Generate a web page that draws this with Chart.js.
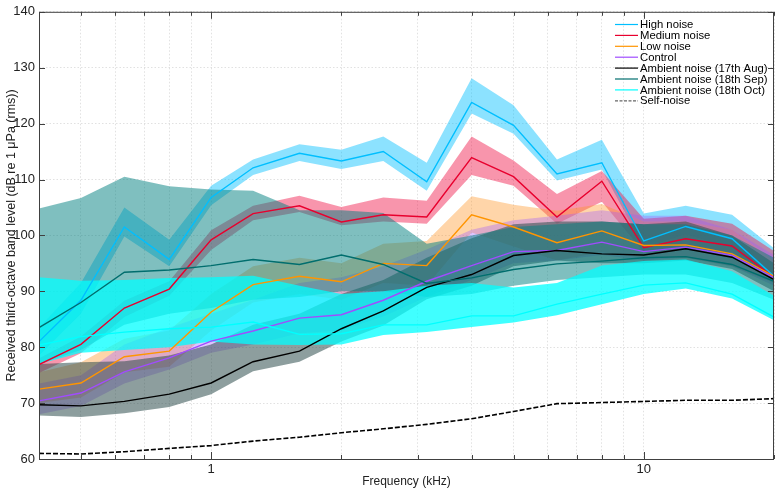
<!DOCTYPE html>
<html>
<head>
<meta charset="utf-8">
<script src="https://cdn.jsdelivr.net/npm/chart.js@4.4.1/dist/chart.umd.min.js"></script>
<style>
  html, body { margin: 0; padding: 0; background: #fff; }
  #wrap { width: 777px; height: 489px; }
</style>
</head>
<body>
<div id="wrap"><canvas id="noise-chart" width="777" height="489"></canvas></div>
<script>
// Third-octave band centre frequencies (kHz)
const freqs = [0.4, 0.5, 0.63, 0.8, 1, 1.25, 1.6, 2, 2.5, 3.15, 4, 5, 6.3, 8, 10, 12.5, 16, 20];

// High noise
const highMean  = [81.0, 88.4, 101.5, 95.7, 106.8, 112.1, 114.7, 113.3, 115.0, 109.6, 123.8, 119.7, 111.0, 113.0, 99.0, 101.6, 99.4, 92.7];
const highUpper = [83.5, 91.5, 105.0, 99.2, 108.9, 113.6, 116.3, 115.3, 117.7, 113.0, 128.1, 123.3, 113.6, 117.1, 103.9, 105.3, 103.7, 97.7];
const highLower = [78.5, 86.0, 99.8, 94.5, 105.4, 110.8, 113.3, 111.9, 113.3, 108.0, 121.8, 118.2, 109.8, 111.8, 97.8, 100.2, 97.8, 92.0];

// Medium noise
const medMean  = [76.9, 80.5, 87.0, 90.4, 99.2, 103.9, 105.3, 102.4, 103.7, 103.3, 113.9, 110.5, 103.3, 109.7, 97.8, 99.4, 98.1, 92.5];
const medUpper = [78.0, 81.9, 88.3, 91.8, 100.9, 105.3, 107.1, 105.1, 106.8, 106.2, 117.7, 113.4, 107.4, 111.5, 103.0, 103.5, 102.1, 97.2];
const medLower = [75.4, 78.9, 85.4, 89.2, 97.4, 102.7, 104.2, 101.8, 102.5, 102.1, 110.8, 108.9, 102.1, 106.0, 97.0, 97.5, 97.0, 92.0];

// Low noise
const lowMean  = [72.5, 73.6, 78.3, 79.3, 86.3, 91.2, 92.7, 91.7, 95.0, 94.6, 103.7, 101.5, 98.7, 100.8, 98.2, 98.3, 96.7, 92.7];
const lowUpper = [75.5, 77.3, 81.5, 83.0, 89.5, 94.5, 96.0, 95.0, 98.5, 99.0, 107.0, 105.5, 104.4, 105.6, 102.5, 102.5, 101.0, 95.5];
const lowLower = [70.0, 71.0, 75.5, 76.5, 83.0, 88.0, 89.5, 88.5, 91.5, 91.0, 100.5, 98.0, 95.5, 97.0, 96.0, 96.0, 94.5, 91.5];

// Control
const ctrlMean  = [70.4, 71.8, 75.6, 78.1, 81.1, 82.9, 85.2, 85.8, 88.4, 91.8, 94.6, 97.1, 97.3, 98.8, 97.1, 97.9, 96.4, 92.4];
const ctrlUpper = [73.5, 75.0, 80.5, 83.5, 86.0, 88.5, 91.5, 92.5, 94.5, 97.5, 101.0, 102.7, 103.5, 104.5, 103.5, 103.5, 101.0, 96.5];
const ctrlLower = [68.0, 69.5, 73.5, 76.0, 79.0, 80.5, 82.5, 83.0, 85.5, 89.0, 92.0, 95.0, 95.5, 96.5, 95.5, 96.0, 94.5, 91.0];

// Ambient noise (17th Aug)
const augMean  = [69.7, 69.5, 70.3, 71.6, 73.6, 77.4, 79.3, 83.3, 86.5, 90.7, 93.0, 96.4, 97.3, 96.7, 96.5, 97.6, 96.1, 92.1];
const augUpper = [77.0, 77.3, 77.5, 78.5, 80.5, 84.0, 86.0, 89.5, 92.0, 96.0, 99.5, 102.0, 102.5, 102.5, 102.0, 102.5, 100.0, 95.0];
const augLower = [67.8, 67.5, 68.2, 69.3, 71.6, 75.7, 77.4, 81.0, 83.9, 88.6, 91.0, 94.5, 95.5, 95.0, 95.0, 95.5, 94.0, 90.0];

// Ambient noise (18th Sep)
const sepMean  = [83.5, 88.0, 93.4, 93.8, 94.6, 95.7, 94.8, 96.5, 94.8, 91.4, 92.4, 93.9, 94.9, 95.4, 96.0, 96.2, 94.8, 91.8];
const sepUpper = [104.8, 106.7, 110.5, 108.8, 108.2, 108.0, 104.5, 104.5, 104.0, 98.5, 100.0, 101.5, 102.0, 102.5, 102.0, 102.0, 100.0, 96.0];
const sepLower = [77.0, 79.5, 84.0, 86.0, 87.0, 88.5, 89.0, 90.0, 90.0, 89.0, 89.5, 91.0, 92.0, 92.5, 93.0, 93.0, 91.5, 88.5];

// Ambient noise (18th Oct)
const octMean  = [80.4, 81.9, 82.7, 83.3, 83.6, 84.5, 82.3, 82.4, 84.0, 84.0, 85.6, 85.6, 87.7, 89.5, 91.1, 91.5, 89.5, 85.4];
const octUpper = [92.5, 91.9, 92.0, 92.4, 92.5, 92.8, 91.0, 89.5, 90.0, 91.0, 91.5, 90.7, 91.5, 94.6, 95.4, 95.7, 93.6, 89.2];
const octLower = [77.0, 79.0, 79.5, 80.0, 81.0, 80.5, 80.4, 80.5, 82.2, 82.7, 83.6, 84.4, 85.7, 87.7, 89.5, 90.5, 88.7, 84.8];

// Self-noise of the recorder
const selfNoise = [61.0, 60.9, 61.3, 61.9, 62.4, 63.2, 63.9, 64.7, 65.4, 66.2, 67.2, 68.5, 69.9, 70.1, 70.3, 70.5, 70.5, 70.8];

// Axis ticks
const gridFreqs = [0.5, 0.6, 0.7, 0.8, 0.9, 1, 2, 3, 4, 5, 6, 7, 8, 9, 10, 20];
const labelledFreqs = [1, 10];
const yTicks = [60, 70, 80, 90, 100, 110, 120, 130, 140];

const seriesNames = ['High noise', 'Medium noise', 'Low noise', 'Control',
    'Ambient noise (17th Aug)', 'Ambient noise (18th Sep)', 'Ambient noise (18th Oct)'];
const seriesMeans = [highMean, medMean, lowMean, ctrlMean, augMean, sepMean, octMean];
const seriesUppers = [highUpper, medUpper, lowUpper, ctrlUpper, augUpper, sepUpper, octUpper];
const seriesLowers = [highLower, medLower, lowLower, ctrlLower, augLower, sepLower, octLower];

const lineColors = ['#00BFFF', '#E8002E', '#FF9500', '#A04CFF', '#000000', '#006E6E', '#00FFFF'];
const bandColors = ['rgba(0,191,255,0.45)', 'rgba(240,20,70,0.45)', 'rgba(255,150,40,0.40)',
    'rgba(160,90,255,0.35)', 'rgba(47,79,79,0.55)', 'rgba(0,128,128,0.50)', 'rgba(0,255,255,0.75)'];

const FONT = "'Liberation Sans', Arial, Helvetica, sans-serif";

function toPoints(values) {
    return values.map((v, i) => ({ x: freqs[i], y: v }));
}

/**
 * Builds band (upper + lower, filled) and mean-line datasets
 */
function buildDatasets() {
    const datasets = [];

    // Bands: later series drawn on top
    seriesNames.forEach((name, i) => {
        datasets.push({
            label: name + ' upper',
            data: toPoints(seriesUppers[i]),
            borderWidth: 0,
            pointRadius: 0,
            backgroundColor: bandColors[i],
            fill: '+1',
            order: 30 - i
        });
        datasets.push({
            label: name + ' lower',
            data: toPoints(seriesLowers[i]),
            borderWidth: 0,
            pointRadius: 0,
            fill: false,
            order: 30 - i
        });
    });

    // Mean lines over every band
    seriesNames.forEach((name, i) => {
        datasets.push({
            label: name,
            data: toPoints(seriesMeans[i]),
            borderColor: lineColors[i],
            borderWidth: 1.4,
            pointRadius: 0,
            fill: false,
            order: 10 - i
        });
    });

    datasets.push({
        label: 'Self-noise',
        data: toPoints(selfNoise),
        borderColor: '#000000',
        borderWidth: 1.6,
        borderDash: [5, 2],
        pointRadius: 0,
        fill: false,
        order: 0
    });

    return datasets;
}

/**
 * Box round the plot with inward tick marks (top/bottom/left/right)
 */
const framePlugin = {
    id: 'frame',
    afterDraw(chart) {
        const { ctx, chartArea: a, scales: { x, y } } = chart;
        ctx.save();
        ctx.strokeStyle = '#404040';
        ctx.lineWidth = 1;
        ctx.strokeRect(a.left + 0.5, a.top + 0.5, a.right - a.left - 1, a.bottom - a.top);

        ctx.beginPath();
        gridFreqs.forEach(v => {
            const px = Math.round(x.getPixelForValue(v)) + 0.5;
            const len = labelledFreqs.includes(v) ? 7 : 4;
            ctx.moveTo(px, a.bottom); ctx.lineTo(px, a.bottom - len);
            ctx.moveTo(px, a.top); ctx.lineTo(px, a.top + len);
        });
        yTicks.forEach(v => {
            const py = Math.round(y.getPixelForValue(v)) + 0.5;
            ctx.moveTo(a.left, py); ctx.lineTo(a.left + 6, py);
            ctx.moveTo(a.right, py); ctx.lineTo(a.right - 6, py);
        });
        ctx.stroke();
        ctx.restore();
    }
};

/**
 * Legend drawn inside the top right corner of the plot
 */
const cornerLegendPlugin = {
    id: 'cornerLegend',
    afterDraw(chart) {
        const { ctx, chartArea: a } = chart;
        const names = seriesNames.concat(['Self-noise']);
        ctx.save();
        ctx.font = '11.3px ' + FONT;
        ctx.textBaseline = 'middle';
        ctx.fillStyle = '#000';
        names.forEach((name, i) => {
            const cy = a.top + 12.7 + i * 10.9;
            const x0 = a.right - 159;
            ctx.beginPath();
            if (i < seriesNames.length) {
                ctx.strokeStyle = lineColors[i];
                ctx.setLineDash([]);
            } else {
                ctx.strokeStyle = '#666';
                ctx.setLineDash([3, 1.5]);
            }
            ctx.lineWidth = 1.2;
            ctx.moveTo(x0, cy); ctx.lineTo(x0 + 23, cy);
            ctx.stroke();
            ctx.fillText(name, x0 + 25, cy + 0.5);
        });
        ctx.restore();
    }
};

const gridStyle = {
    color: 'rgba(205,205,205,0.6)',
    lineWidth: 1,
    drawTicks: false
};

const chart = new Chart(document.getElementById('noise-chart'), {
    type: 'line',
    data: { datasets: buildDatasets() },
    options: {
        responsive: false,
        devicePixelRatio: 1,
        animation: false,
        layout: { padding: { top: 5, right: 2, left: 0, bottom: 0 } },
        elements: { line: { tension: 0 } },
        plugins: {
            legend: { display: false },
            tooltip: { enabled: false },
            filler: { propagate: false }
        },
        scales: {
            x: {
                type: 'logarithmic',
                min: 0.4,
                max: 20,
                z: 1,
                grid: gridStyle,
                border: { display: false, dash: [1.5, 2] },
                afterBuildTicks: (scale) => {
                    scale.ticks = gridFreqs.map(v => ({ value: v, major: labelledFreqs.includes(v) }));
                },
                afterFit: (scale) => { scale.height = 30; },
                ticks: {
                    autoSkip: false,
                    maxRotation: 0,
                    padding: 3,
                    color: '#222',
                    font: { family: FONT, size: 13 },
                    callback: (value) => labelledFreqs.includes(value) ? String(value) : ''
                },
                title: {
                    display: true,
                    text: 'Frequency (kHz)',
                    color: '#222',
                    font: { family: FONT, size: 12 },
                    padding: { top: 0, bottom: 0 }
                }
            },
            y: {
                min: 60,
                max: 140,
                z: 1,
                grid: gridStyle,
                border: { display: false, dash: [1.5, 2] },
                afterBuildTicks: (scale) => {
                    scale.ticks = yTicks.map(v => ({ value: v }));
                },
                afterFit: (scale) => { scale.width = 39; },
                ticks: {
                    padding: 4,
                    color: '#222',
                    font: { family: FONT, size: 13 }
                },
                title: {
                    display: true,
                    text: 'Received third-octave band level (dB re 1 \u03bcPa (rms))',
                    color: '#222',
                    font: { family: FONT, size: 12.5 },
                    padding: { top: 4.5, bottom: 0 }
                }
            }
        }
    },
    plugins: [framePlugin, cornerLegendPlugin]
});
</script>
</body>
</html>
